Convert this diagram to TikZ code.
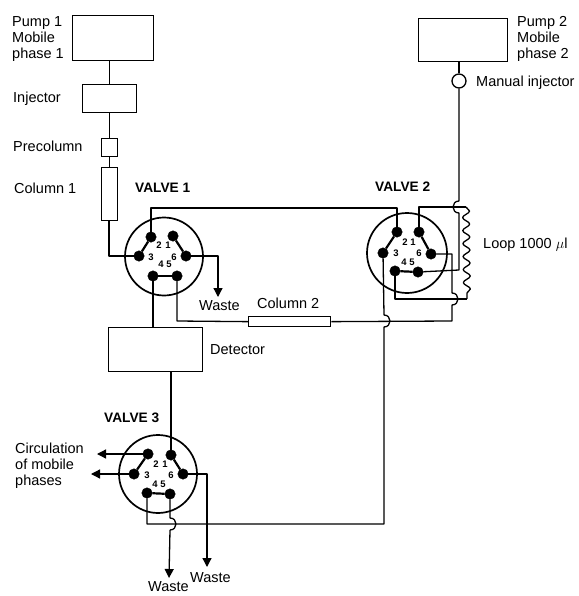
\documentclass[tikz,border=0pt]{standalone}
\usepackage{fontspec}
\setmainfont{Liberation Sans}
\usetikzlibrary{arrows.meta, decorations.pathmorphing}
\tikzset{
  pipe/.style={line width=1.3pt, line join=round},
  drain/.style={pipe, -{Triangle[length=9pt,width=9pt]}},
  unit/.style={draw, line width=1.3pt, inner sep=0pt, anchor=north west},
  valvering/.style={draw, circle, line width=1.7pt, inner sep=0pt},
  port/.style={draw, fill, circle, minimum size=10.5pt, inner sep=0pt},
  portnum/.style={font=\bfseries\fontsize{9.5}{9.5}\selectfont, inner sep=0pt},
  link/.style={line width=2.2pt},
  lbl/.style={font=\fontsize{14.5}{16}\selectfont, align=left, anchor=west, inner sep=0pt},
  vlbl/.style={font=\bfseries\fontsize{13.7}{14}\selectfont, anchor=west, inner sep=0pt},
}

\begin{document}
\begin{tikzpicture}[x=1pt,y=-1pt]
\useasboundingbox (0,0) rectangle (578,596);
\node(pump1) [unit, minimum width=81pt, minimum height=45pt] at (72,15) {};
\node(inj) [unit, minimum width=54pt, minimum height=28pt] at (82,84) {};
\node(precol) [unit, minimum width=16pt, minimum height=18pt] at (101,138) {};
\node(col1) [unit, minimum width=16pt, minimum height=53pt] at (101,167) {};
\node[lbl](pump1txt) at (12,39) {Pump 1\\Mobile\\phase 1};
\node[lbl](injtxt) at (13,99) {Injector};
\node[lbl](precoltxt) at (13,146) {Precolumn};
\node[lbl](col1txt) at (14,188) {Column 1};
\draw[pipe](pump1.south -| inj.north) -- (inj.north);
\draw[pipe](inj) -- (precol);
\draw[pipe](precol) -- (col1);
%
\node(pump2) [unit, minimum width=89pt, minimum height=43pt] at (418,18) {};
\node(minj) [draw, circle, line width=1.3pt, minimum size=14pt, inner sep=0pt] at (459,81) {};
\node[lbl](pump2txt) at (517,39) {Pump 2\\Mobile\\phase 2};
\node[lbl](minjtxt) at (476,83) {Manual injector};
\draw[pipe](minj.north |- pump2.south) -- (minj);
%
\node[vlbl](v1txt) at (135,188) {VALVE 1};
\node[valvering, minimum size=78pt](v1) at (164,256.5) {};
\node[port](v1p2) at (151,237) {};
\node[port](v1p1) at (173,236) {};
\node[port](v1p3) at (139,256) {};
\node[port](v1p6) at (186,256) {};
\node[port](v1p4) at (153,276) {};
\node[port](v1p5) at (177,276) {};
\draw[link](v1p2) -- (v1p3);
\draw[link](v1p1) -- (v1p6);
\draw[link](v1p4) -- (v1p5);
\node[portnum](v1n2) at (159,245) {2};
\node[portnum](v1n1) at (168,245) {1};
\node[portnum](v1n3) at (151,257) {3};
\node[portnum](v1n6) at (174,257) {6};
\node[portnum](v1n4) at (161,264) {4};
\node[portnum](v1n5) at (169,264) {5};
%
\node[vlbl](v2txt) at (375,187) {VALVE 2};
\node[valvering, minimum size=80pt](v2) at (407,253) {};
\node[port](v2p2) at (397,232) {};
\node[port](v2p1) at (419,232) {};
\node[port](v2p3) at (383,253) {};
\node[port](v2p6) at (431,254) {};
\node[port](v2p4) at (395,271) {};
\node[port](v2p5) at (418,272) {};
\draw[link](v2p2) -- (v2p3);
\draw[link](v2p1) -- (v2p6);
\draw[link](v2p4) -- (v2p5);
\node[portnum](v2n2) at (405,242) {2};
\node[portnum](v2n1) at (413,242) {1};
\node[portnum](v2n3) at (396,253) {3};
\node[portnum](v2n6) at (419,253) {6};
\node[portnum](v2n4) at (404,262) {4};
\node[portnum](v2n5) at (412,262) {5};
%
\node[vlbl](v3txt) at (104,418) {VALVE 3};
\node[valvering, minimum size=78pt](v3) at (158,474) {};
\node[port](v3p2) at (148,454) {};
\node[port](v3p1) at (171,455) {};
\node[port](v3p3) at (134,474) {};
\node[port](v3p6) at (183,474) {};
\node[port](v3p4) at (147,493) {};
\node[port](v3p5) at (170,494) {};
\draw[link](v3p2) -- (v3p3);
\draw[link](v3p1) -- (v3p6);
\draw[link](v3p4) -- (v3p5);
\node[portnum](v3n2) at (156,464) {2};
\node[portnum](v3n1) at (165,464) {1};
\node[portnum](v3n3) at (147,475) {3};
\node[portnum](v3n6) at (171,475) {6};
\node[portnum](v3n4) at (155,484) {4};
\node[portnum](v3n5) at (163,484) {5};
%
\node(det) [unit, minimum width=94pt, minimum height=44pt] at (108,327) {};
\node[lbl](dettxt) at (210,350) {Detector};
\node(col2) [unit, minimum width=82pt, minimum height=10pt] at (248,316) {};
\node[lbl](col2txt) at (257,303) {Column 2};
\node[lbl](w1txt) at (199,306) {Waste};
\node[lbl](looptxt) at (483,245) {Loop 1000 $\mu$l};
\node[lbl](circtxt) at (15,466) {Circulation\\of mobile\\phases};
\node[lbl](w2txt) at (190,578) {Waste};
\node[lbl](w3txt) at (148,587) {Waste};
%
\coordinate(a1) at (109,256);
\coordinate(a2) at (151,208);
\coordinate(a3) at (397,208);
\coordinate(b1) at (218,256);
\coordinate(b2) at (218,297);
\coordinate(c1) at (177,321);
\draw[pipe](col1.south -| a1) -- (a1) -- (v1p3);
\draw[pipe](v1p2) -- (a2) -- (a3) -- (v2p2);
\draw[drain](v1p6) -- (b1) -- (b2);
\draw[pipe](v1p4) -- (v1p4 |- det.north);
\draw[pipe](v1p5) -- (c1) -- (col2.west);
\draw[pipe](v3p1) -- (v3p1 |- det.south);
%
\coordinate(d1) at (459,201);
\coordinate(d2) at (459,213);
\coordinate(d3) at (459,270);
\draw[pipe](minj) -- (d1) to[out=180,in=180,looseness=1.7] (d2) -- (d3) -- (v2p5);
%
\coordinate(e0) at (419,207);
\coordinate(e1) at (466,207);
\coordinate(e2) at (467,299);
\coordinate(e3) at (395,299);
\draw[pipe](v2p1) -- (e0) -- (e1);
\draw[pipe, decorate, decoration={snake, amplitude=3.5pt, segment length=13pt}](e1) -- (e2);
\draw[pipe](v2p4) -- (e3) -- (e2);
%
\coordinate(f1) at (452,254);
\coordinate(f2) at (452,293);
\coordinate(f3) at (452,305);
\coordinate(f4) at (452,321);
\draw[pipe](v2p6) -- (f1) -- (f2) to[out=0,in=0,looseness=1.7] (f3) -- (f4) -- (col2.east);
%
\coordinate(g1) at (384,315);
\coordinate(g2) at (384,327);
\coordinate(g3) at (384,524);
\coordinate(g4) at (147,524);
\draw[pipe](v2p3) -- (g1) to[out=0,in=0,looseness=1.7] (g2) -- (g3) -- (g4) -- (v3p4);
%
\coordinate(h1) at (97,454);
\coordinate(h2) at (91,474);
\coordinate(h3) at (207,474);
\coordinate(h4) at (207,567);
\coordinate(h5) at (170,518);
\coordinate(h6) at (170,530);
\coordinate(h7) at (169,578);
\draw[drain](v3p2) -- (h1);
\draw[drain](v3p3) -- (h2);
\draw[drain](v3p6) -- (h3) -- (h4);
\draw[pipe](v3p5) -- (h5) to[out=0,in=0,looseness=1.7] (h6);
\draw[drain](h6) -- (h7);
\end{tikzpicture}
\end{document}
